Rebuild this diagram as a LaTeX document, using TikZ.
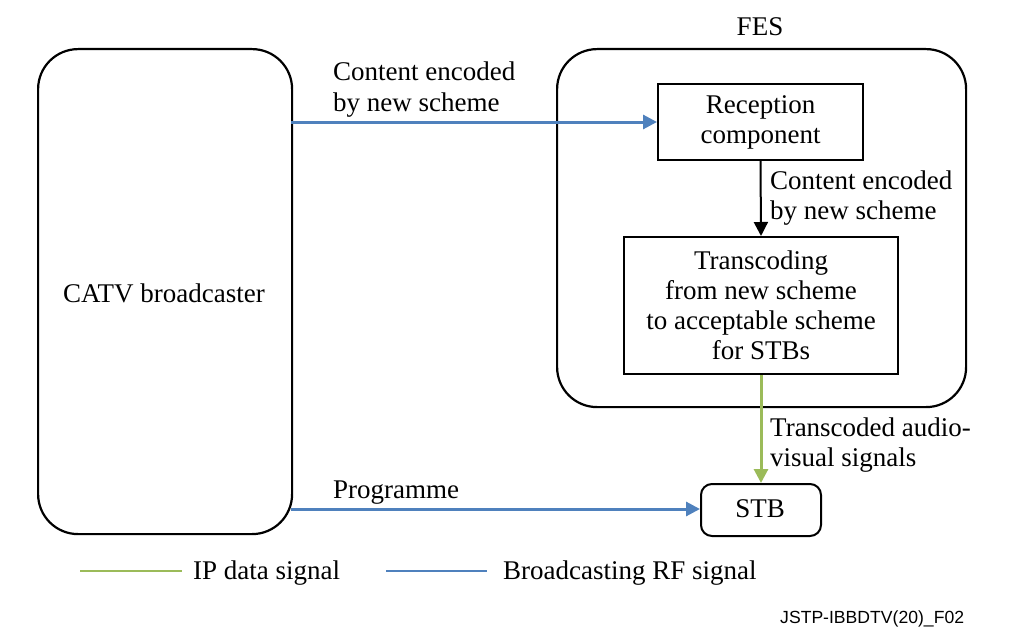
\documentclass[tikz,border=0pt]{standalone}
\usepackage{fontspec}
\setmainfont{Liberation Serif}
\newfontfamily\arialfont{Liberation Sans}
\usetikzlibrary{arrows.meta}
\definecolor{rfblue}{RGB}{79,129,189}
\definecolor{ipgreen}{RGB}{155,187,89}
\begin{document}
\begin{tikzpicture}[x=1pt,y=-1pt,
  txt/.style={font=\fontsize{27}{30}\selectfont, inner sep=0pt},
  bigbox/.style={draw, line width=2.2pt, rounded corners=40pt},
  sqbox/.style={draw, line width=2pt, font=\fontsize{27}{30}\selectfont, align=center, inner sep=0pt},
  rfline/.style={draw=rfblue, line width=3pt},
  ipline/.style={draw=ipgreen, line width=3pt},
  tip/.style={-{Triangle[length=14pt,width=14pt]}}]
\useasboundingbox (0,0) rectangle (1014,634);
% big boxes
\node[bigbox, minimum width=254pt, minimum height=485pt, anchor=north west, txt] (catv) at (37,48) {};
\node[txt] at (164,293) {CATV broadcaster};
\node[bigbox, minimum width=409pt, minimum height=358pt, anchor=north west] (fes) at (556,48) {};
\node[txt, anchor=base] (feslabel) at (760,36) {FES};
% inner boxes
\node[sqbox, minimum width=205pt, minimum height=76pt, anchor=north west] (rec) at (657,83) {Reception\\component};
\node[sqbox, minimum width=274pt, minimum height=137pt, anchor=north west] (trans) at (623,236) {Transcoding\\from new scheme\\to acceptable scheme\\for STBs};
\node[draw, line width=2pt, rounded corners=11pt, minimum width=120pt, minimum height=52pt, anchor=north west, txt] (stb) at (700,483) {};
\node[txt] at (760,509) {STB};
% connectors
\coordinate (a1) at (291,122);
\coordinate (a2) at (291,509);
\draw[rfline, tip] (a1) -- (a1 -| rec.west);
\draw[rfline, tip] (a2) -- (a2 -| stb.west);
\draw[line width=2pt, tip] (rec.south) -- (trans.north);
\draw[ipline, tip] (trans.south) -- (stb.north);
% labels
\node[txt, anchor=base west, align=left] at (333,81) {Content encoded};
\node[txt, anchor=base west, align=left] at (333,111) {by new scheme};
\node[txt, anchor=base west] at (770,189) {Content encoded};
\node[txt, anchor=base west] at (770,219) {by new scheme};
\node[txt, anchor=base west] at (770,436) {Transcoded audio-};
\node[txt, anchor=base west] at (770,466) {visual signals};
\node[txt, anchor=base west] at (333,498) {Programme};
% legend
\coordinate (g1) at (80,571); \coordinate (g2) at (182,571);
\coordinate (b1) at (386,571); \coordinate (b2) at (487,571);
\draw[ipline, line width=2.4pt] (g1) -- (g2);
\draw[rfline, line width=2.4pt] (b1) -- (b2);
\node[txt, anchor=base west] at (193,579) {IP data signal};
\node[txt, anchor=base west] at (503,579) {Broadcasting RF signal};
\node[inner sep=0pt, anchor=base west, font=\arialfont\fontsize{17.6}{20}\selectfont] at (780,623) {JSTP-IBBDTV(20)\_F02};
\end{tikzpicture}
\end{document}
